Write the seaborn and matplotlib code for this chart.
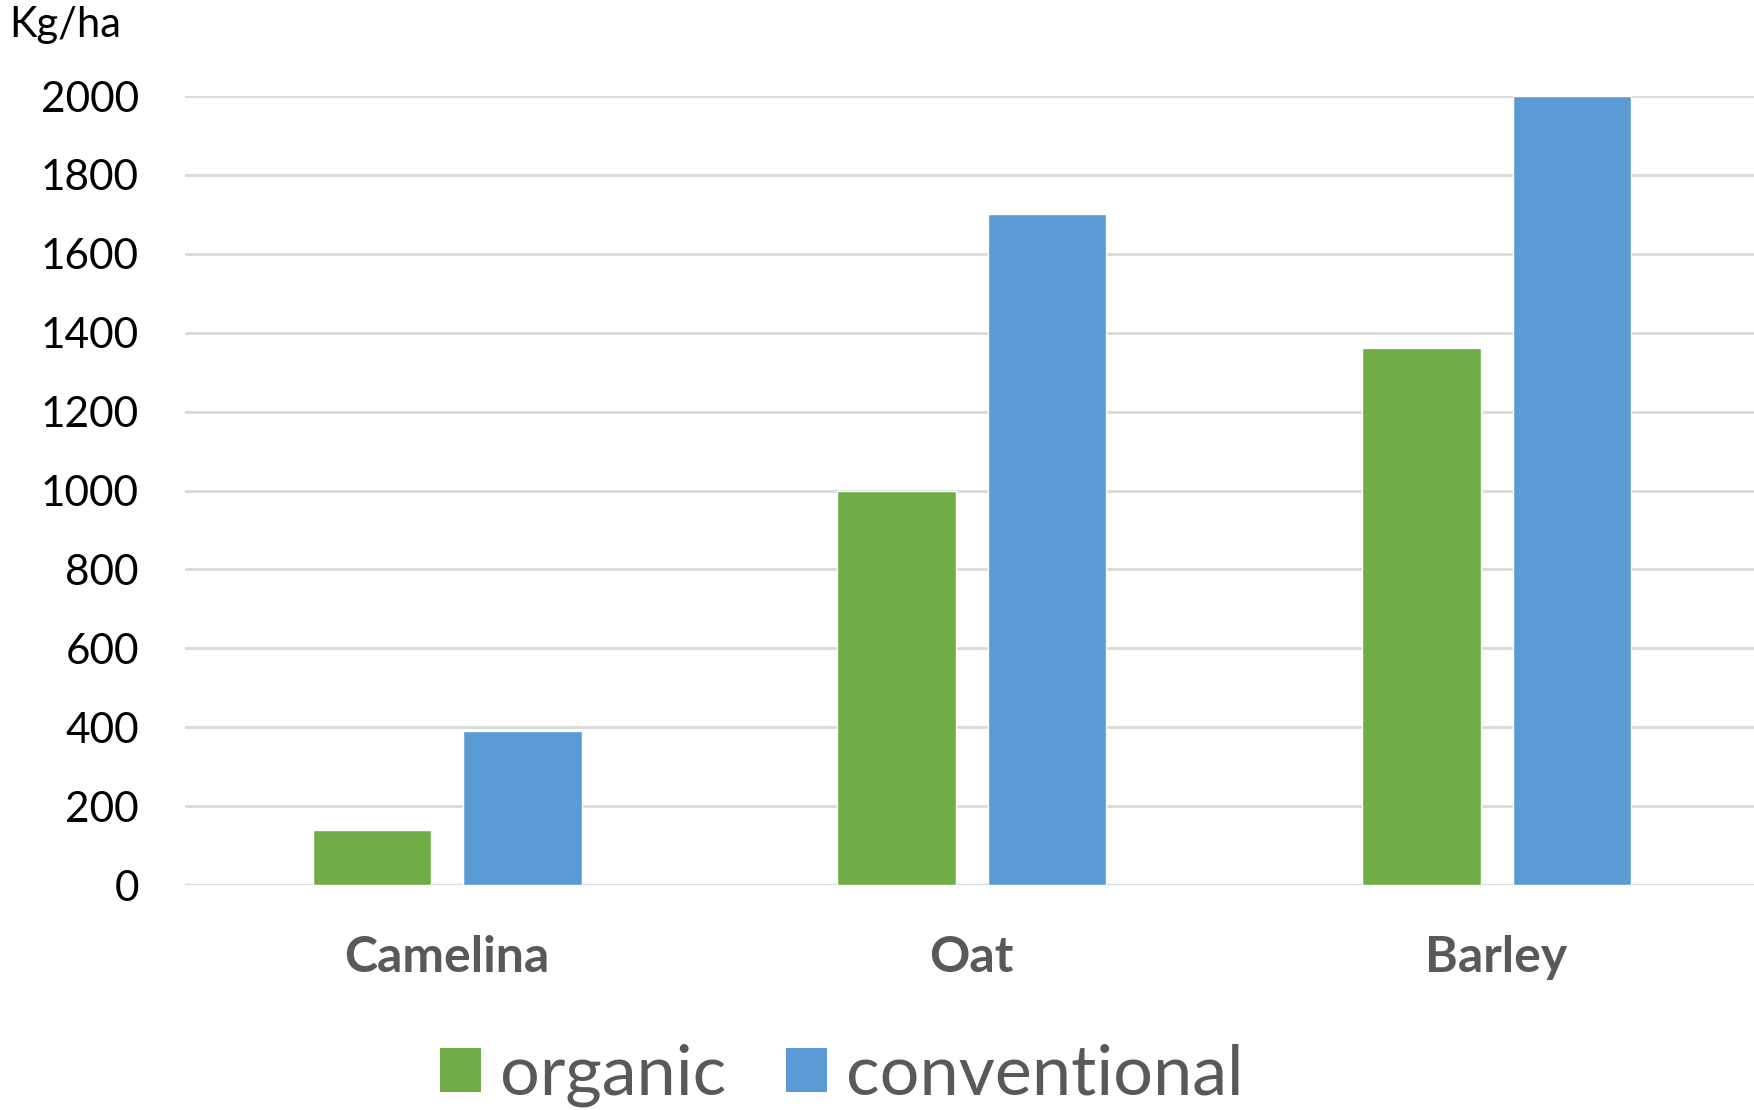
import matplotlib
matplotlib.use("Agg")
import matplotlib.pyplot as plt
import seaborn as sns
import pandas as pd
from matplotlib.patches import Patch

# Yield per crop and farming system (kg/ha)
crops = ["Camelina", "Oat", "Barley"]
systems = ["organic", "conventional"]
organic = [140, 1000, 1360]
conventional = [390, 1700, 2000]
y_ticks = [0, 200, 400, 600, 800, 1000, 1200, 1400, 1600, 1800, 2000]
unit_label = "Kg/ha"

colors = {"organic": "#70AD47", "conventional": "#5B9BD5"}

df = pd.DataFrame({
    "crop": crops * 2,
    "system": [systems[0]] * len(crops) + [systems[1]] * len(crops),
    "yield": organic + conventional,
})

sns.set_theme(style="white")
plt.rcParams["font.family"] = ["Lato", "DejaVu Sans"]

fig = plt.figure(figsize=(17.54, 11.10), dpi=100)
ax = fig.add_axes([0.1053, 0.2027, 0.8975, 0.7108])

sns.barplot(data=df, x="crop", y="yield", hue="system", order=crops,
            hue_order=systems, palette=colors, width=0.574, gap=0.213,
            saturation=1, legend=False, ax=ax, zorder=3)

ax.set_ylim(0, 2000)
ax.set_xlim(-0.5, len(crops) - 0.5)
ax.set_yticks(y_ticks)
ax.set_yticklabels([str(v) for v in y_ticks])
ax.yaxis.grid(True, color="#d9d9d9", linewidth=2, zorder=0)
ax.xaxis.grid(False)
ax.set_axisbelow(True)
for side in ["top", "right", "left", "bottom"]:
    ax.spines[side].set_visible(False)
ax.axhline(0, color="#d9d9d9", linewidth=2.5, zorder=1)

ax.tick_params(axis="y", length=0, pad=33, labelsize=30.5, labelcolor="black")
ax.tick_params(axis="x", length=0, pad=36, labelsize=36, labelcolor="#595959")
for lbl in ax.get_xticklabels():
    lbl.set_fontweight("bold")
ax.set_xlabel("")
ax.set_ylabel("")

fig.text(9 / 1754, 1 - 37 / 1110, unit_label, fontsize=30, color="black",
         ha="left", va="baseline")

handles = [Patch(facecolor=colors[s], edgecolor="none", label=s) for s in systems]
fig.legend(handles=handles, loc="center", bbox_to_anchor=(0.48, 0.031),
           ncol=2, frameon=False, fontsize=50.5, labelcolor="#595959",
           handlelength=0.58, handleheight=0.58, handletextpad=0.28,
           columnspacing=0.85)

fig.savefig("out.png", dpi=100)
